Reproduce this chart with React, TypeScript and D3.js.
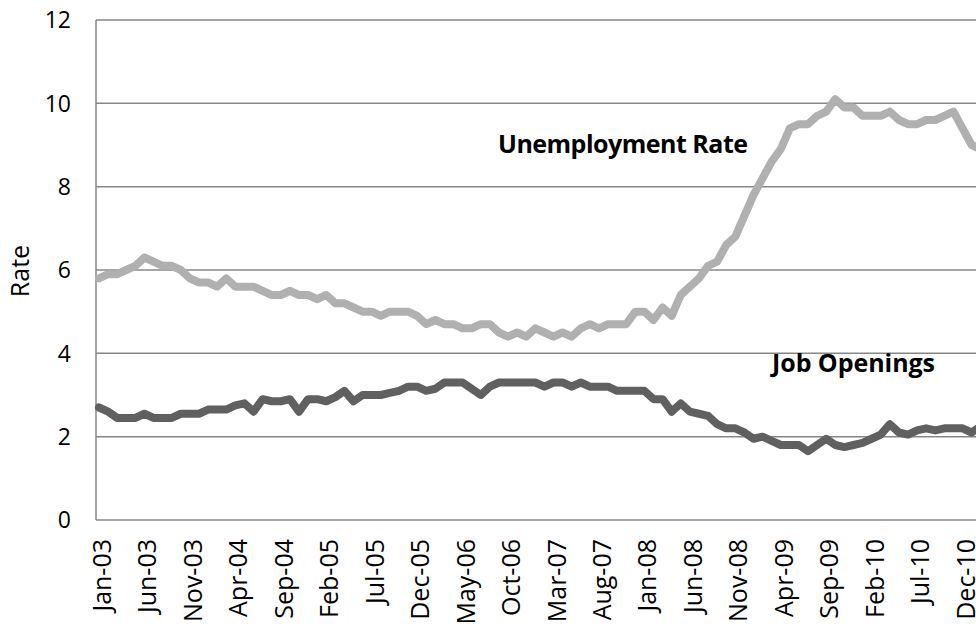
import React from "react";
import * as d3 from "d3";

// Monthly series, Jan-03 through Feb-11
const unemploymentRate = [
  5.8, 5.9, 5.9, 6.0, 6.1, 6.3, 6.2, 6.1, 6.1, 6.0, 5.8, 5.7,
  5.7, 5.6, 5.8, 5.6, 5.6, 5.6, 5.5, 5.4, 5.4, 5.5, 5.4, 5.4,
  5.3, 5.4, 5.2, 5.2, 5.1, 5.0, 5.0, 4.9, 5.0, 5.0, 5.0, 4.9,
  4.7, 4.8, 4.7, 4.7, 4.6, 4.6, 4.7, 4.7, 4.5, 4.4, 4.5, 4.4,
  4.6, 4.5, 4.4, 4.5, 4.4, 4.6, 4.7, 4.6, 4.7, 4.7, 4.7, 5.0,
  5.0, 4.8, 5.1, 4.9, 5.4, 5.6, 5.8, 6.1, 6.2, 6.6, 6.8, 7.3,
  7.8, 8.2, 8.6, 8.9, 9.4, 9.5, 9.5, 9.7, 9.8, 10.1, 9.9, 9.9,
  9.7, 9.7, 9.7, 9.8, 9.6, 9.5, 9.5, 9.6, 9.6, 9.7, 9.8, 9.4,
  9.0, 8.9,
];

const jobOpeningsRate = [
  2.7, 2.6, 2.45, 2.45, 2.45, 2.55, 2.45, 2.45, 2.45, 2.55, 2.55, 2.55,
  2.65, 2.65, 2.65, 2.75, 2.8, 2.6, 2.9, 2.85, 2.85, 2.9, 2.6, 2.9,
  2.9, 2.85, 2.95, 3.1, 2.85, 3.0, 3.0, 3.0, 3.05, 3.1, 3.2, 3.2,
  3.1, 3.15, 3.3, 3.3, 3.3, 3.15, 3.0, 3.2, 3.3, 3.3, 3.3, 3.3,
  3.3, 3.2, 3.3, 3.3, 3.2, 3.3, 3.2, 3.2, 3.2, 3.1, 3.1, 3.1,
  3.1, 2.9, 2.9, 2.6, 2.8, 2.6, 2.55, 2.5, 2.3, 2.2, 2.2, 2.1,
  1.95, 2.0, 1.9, 1.8, 1.8, 1.8, 1.65, 1.8, 1.95, 1.8, 1.75, 1.8,
  1.85, 1.95, 2.05, 2.3, 2.1, 2.05, 2.15, 2.2, 2.15, 2.2, 2.2, 2.2,
  2.1, 2.25,
];

const tickLabels = [
  "Jan-03", "Jun-03", "Nov-03", "Apr-04", "Sep-04", "Feb-05", "Jul-05",
  "Dec-05", "May-06", "Oct-06", "Mar-07", "Aug-07", "Jan-08", "Jun-08",
  "Nov-08", "Apr-09", "Sep-09", "Feb-10", "Jul-10", "Dec-10",
];

const yTicks = [0, 2, 4, 6, 8, 10, 12];

const W = 976;
const H = 630;
const FONT = "'Open Sans', Lato, sans-serif";

const months = d3
  .timeMonths(new Date(2003, 0, 1), new Date(2011, 2, 1))
  .map(d3.timeFormat("%b-%y"));

const x = d3
  .scalePoint<string>()
  .domain(months)
  .range([99, 99 + (months.length - 1) * 9.09]);

const y = d3.scaleLinear().domain([0, 12]).range([520, 20]);

const lineGen = d3
  .line<number>()
  .x((_, i) => x(months[i]) as number)
  .y((d) => y(d));

export default function App() {
  const axisColor = "#878787";
  return (
    <svg
      width={W}
      height={H}
      style={{ position: "absolute", left: 0, top: 0, background: "#fff" }}
      fontFamily={FONT}
    >
      {/* horizontal gridlines */}
      {yTicks.slice(1).map((t) => (
        <line
          key={t}
          x1={96}
          x2={W}
          y1={y(t)}
          y2={y(t)}
          stroke={axisColor}
          strokeWidth={1.5}
        />
      ))}
      {/* axes */}
      <line x1={96} x2={96} y1={y(12)} y2={y(0)} stroke={axisColor} strokeWidth={1.5} />
      <line x1={96} x2={W} y1={y(0)} y2={y(0)} stroke={axisColor} strokeWidth={1.5} />

      {/* y tick labels */}
      {yTicks.map((t) => (
        <text
          key={t}
          x={71}
          y={y(t)}
          dy="0.36em"
          textAnchor="end"
          fontSize={23}
          fill="#000"
        >
          {t}
        </text>
      ))}
      <text
        transform={`translate(29,271) rotate(-90)`}
        textAnchor="middle"
        fontSize={25}
        fill="#000"
      >
        Rate
      </text>

      {/* x tick labels */}
      {tickLabels.map((lab) => {
        const px = x(lab) as number;
        return (
          <text
            key={lab}
            transform={`translate(${px + 12},539) rotate(-90)`}
            textAnchor="end"
            fontSize={25}
            fill="#000"
          >
            {lab}
          </text>
        );
      })}

      {/* series */}
      <path
        d={lineGen(unemploymentRate) || ""}
        fill="none"
        stroke="#b0b0b0"
        strokeWidth={8}
        strokeLinejoin="round"
        strokeLinecap="round"
      />
      <path
        d={lineGen(jobOpeningsRate) || ""}
        fill="none"
        stroke="#606060"
        strokeWidth={8}
        strokeLinejoin="round"
        strokeLinecap="round"
      />

      {/* series labels */}
      <text
        x={498}
        y={153}
        fontSize={25}
        fontWeight="bold"
        textLength={250}
        lengthAdjust="spacing"
        fill="#000"
      >
        Unemployment Rate
      </text>
      <text
        x={772}
        y={372}
        fontSize={25}
        fontWeight="bold"
        textLength={163}
        lengthAdjust="spacing"
        fill="#000"
      >
        Job Openings
      </text>
    </svg>
  );
}
